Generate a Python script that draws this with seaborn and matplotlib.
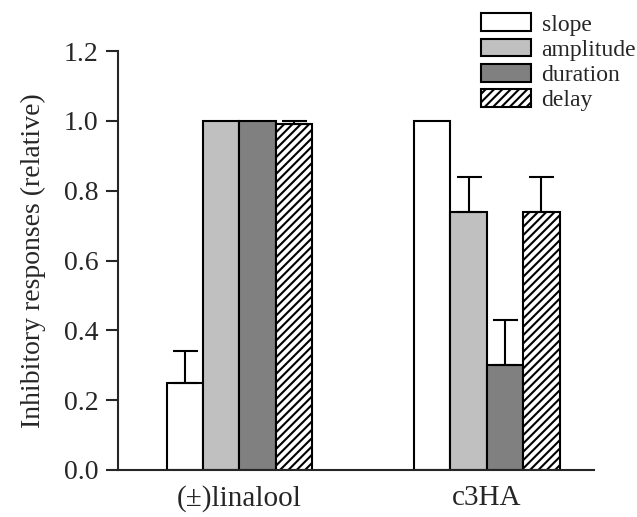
import matplotlib
matplotlib.use("Agg")
import matplotlib.pyplot as plt
import seaborn as sns
import pandas as pd
from matplotlib.patches import Patch

groups = ["(\u00b1)linalool", "c3HA"]
measures = ["slope", "amplitude", "duration", "delay"]
values = {
    "slope":     [0.25, 1.00],
    "amplitude": [1.00, 0.74],
    "duration":  [1.00, 0.30],
    "delay":     [0.99, 0.74],
}
errors = {
    "slope":     [0.09, 0.0],
    "amplitude": [0.0, 0.10],
    "duration":  [0.0, 0.13],
    "delay":     [0.01, 0.10],
}
yticks = [0.0, 0.2, 0.4, 0.6, 0.8, 1.0, 1.2]

colors = {"slope": "white", "amplitude": "#c0c0c0", "duration": "#808080", "delay": "white"}
hatches = {"slope": "", "amplitude": "", "duration": "", "delay": "////"}

rows = []
for m in measures:
    for g, v, e in zip(groups, values[m], errors[m]):
        rows.append({"group": g, "measure": m, "value": v, "err": e})
df = pd.DataFrame(rows)

sns.set_style("ticks")
plt.rcParams["font.family"] = ["Liberation Serif", "DejaVu Serif"]
plt.rcParams["hatch.linewidth"] = 1.5

fig = plt.figure(figsize=(6.37, 5.17), dpi=100)
ax = fig.add_axes([0.185, 0.091, 0.748, 0.810])

sns.barplot(data=df, x="group", y="value", hue="measure", order=groups,
            hue_order=measures, palette=colors, width=0.59, errorbar=None,
            edgecolor="black", linewidth=1.5, ax=ax, legend=False)

for i, m in enumerate(measures):
    cont = ax.containers[i]
    for j, bar in enumerate(cont.patches):
        bar.set_hatch(hatches[m])
        bar.set_facecolor(colors[m])
        bar.set_edgecolor("black")
        e = errors[m][j]
        if e > 0:
            xc = bar.get_x() + bar.get_width() / 2
            ax.errorbar([xc], [values[m][j]], yerr=[[0], [e]], fmt="none",
                        ecolor="black", elinewidth=1.5, capsize=9, capthick=1.5,
                        zorder=1)

ax.set_xlim(-0.492, 1.435)
ax.set_ylim(0, 1.2)
ax.set_yticks(yticks)
ax.set_yticklabels([f"{t:.1f}" for t in yticks])
ax.set_xlabel("")
ax.set_ylabel("Inhibitory responses (relative)", fontsize=20, labelpad=13)
ax.tick_params(axis="y", direction="out", length=9, width=1.5, labelsize=20, pad=5)
ax.tick_params(axis="x", length=0, labelsize=21, pad=11)
for s in ["top", "right"]:
    ax.spines[s].set_visible(False)
for s in ["left", "bottom"]:
    ax.spines[s].set_linewidth(1.5)

handles = [Patch(facecolor=colors[m], edgecolor="black", hatch=hatches[m],
                 linewidth=1.5, label=m) for m in measures]
leg = ax.legend(handles=handles, loc="upper left", bbox_to_anchor=(0.763, 1.09),
                frameon=False, fontsize=17, handlelength=2.1, handleheight=0.78,
                handletextpad=0.45, labelspacing=0.13, borderaxespad=0,
                borderpad=0)

fig.savefig("out.png", dpi=100)
